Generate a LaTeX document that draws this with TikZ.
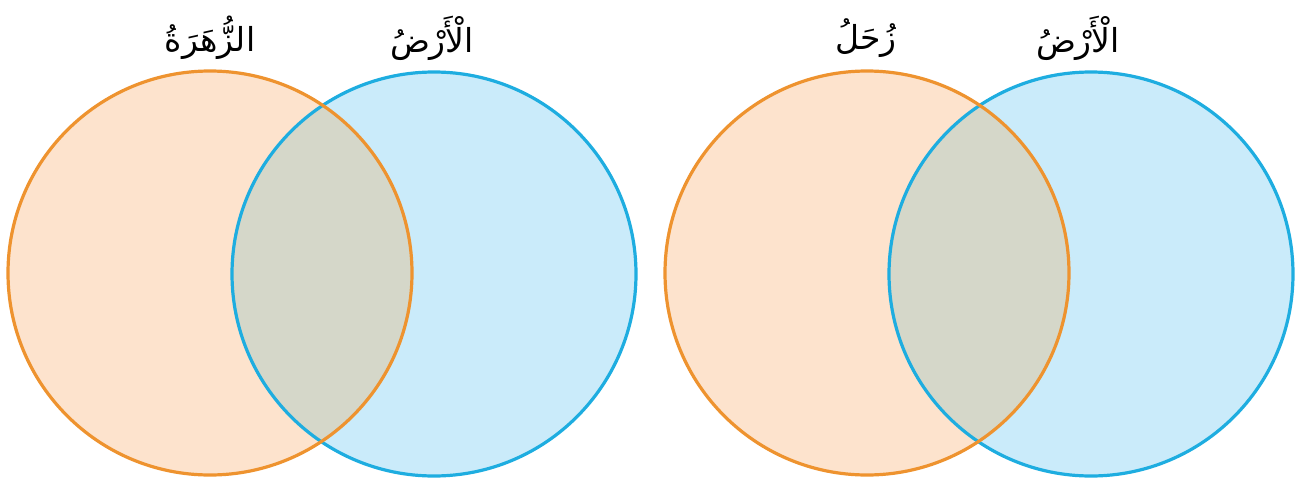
\documentclass[tikz,border=0pt]{standalone}
\usepackage{fontspec}
\TeXXeTstate=1
\newfontfamily\arabicfont[Script=Arabic]{DejaVu Sans}
\definecolor{orst}{HTML}{EE932F}
\definecolor{orfl}{HTML}{FDE3CD}
\definecolor{blst}{HTML}{1EADE0}
\definecolor{blfl}{HTML}{CAEBFA}
\definecolor{mix}{HTML}{D5D7C9}
\begin{document}
\begin{tikzpicture}[x=1pt,y=-1pt,
  lbl/.style={font=\arabicfont\fontsize{33}{38}\selectfont, text=black, inner sep=0pt},
  ringo/.style={draw=orst, line width=3.2pt},
  ringb/.style={draw=blst, line width=3.2pt}]
\useasboundingbox (0,0) rectangle (1301,487);
% left pair
\fill[orfl] (210,273) circle (202);
\fill[blfl] (434,274) circle (202);
\begin{scope}
  \clip (210,273) circle (202);
  \fill[mix] (434,274) circle (202);
\end{scope}
\draw[ringb] (434,274) circle (202);
\draw[ringo] (210,273) circle (202);
% right pair
\fill[orfl] (867,273) circle (202);
\fill[blfl] (1091,274) circle (202);
\begin{scope}
  \clip (867,273) circle (202);
  \fill[mix] (1091,274) circle (202);
\end{scope}
\draw[ringb] (1091,274) circle (202);
\draw[ringo] (867,273) circle (202);
% labels
\node[lbl] (venus) at (210,38) {\beginR الزُّهَرَةُ\endR};
\node[lbl] (earth1) at (432,38) {\beginR الْأَرْضُ\endR};
\node[lbl] (saturn) at (866,38) {\beginR زُحَلُ\endR};
\node[lbl] (earth2) at (1078,38) {\beginR الْأَرْضُ\endR};
\end{tikzpicture}
\end{document}
